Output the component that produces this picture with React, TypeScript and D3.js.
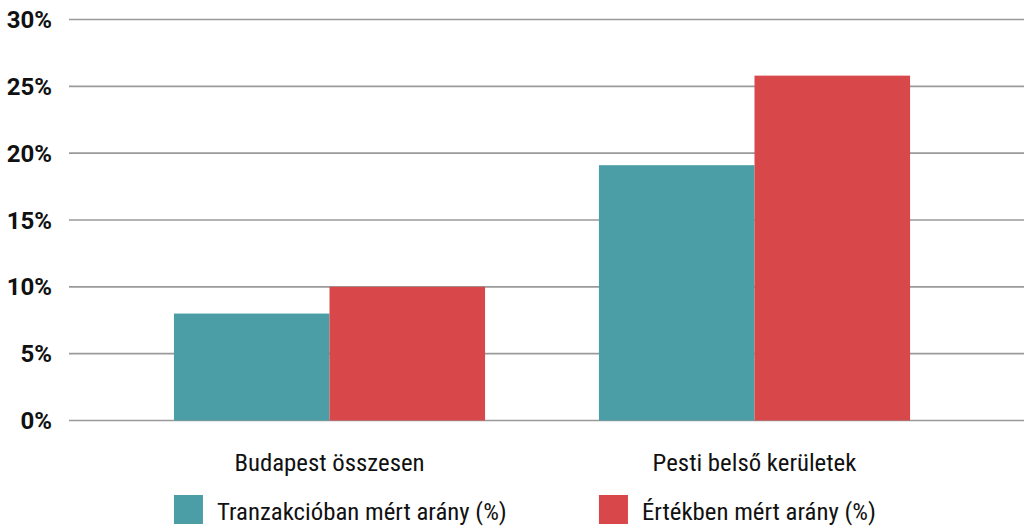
import React, { useEffect, useRef } from 'react';
import * as d3 from 'd3';

const categories = ['Budapest összesen', 'Pesti belső kerületek'];
const seriesNames = ['Tranzakcióban mért arány (%)', 'Értékben mért arány (%)'];
const seriesColors = ['#4b9ea6', '#d84749'];
const tranzakcio = [8.0, 19.1];
const ertek = [10.0, 25.8];
const yTicks = [0, 5, 10, 15, 20, 25, 30];

const W = 1024;
const H = 530;
const FONT = "'Roboto Condensed', 'Liberation Sans Narrow', Roboto, sans-serif";

export default function App() {
    const svgRef = useRef<SVGSVGElement>(null);

    useEffect(() => {
        if (!svgRef.current) return;
        const svg = d3.select(svgRef.current);
        svg.selectAll('*').remove();

        const y = d3.scaleLinear().domain([0, 30]).range([420.5, 19.5]);
        const x0 = d3.scaleBand<string>()
            .domain(categories)
            .range([117, 967])
            .paddingInner(0.268)
            .paddingOuter(0.134);
        const x1 = d3.scaleBand<string>()
            .domain(seriesNames)
            .range([0, x0.bandwidth()]);

        // grid + tick labels
        const grid = svg.append('g');
        grid.selectAll('line')
            .data(yTicks)
            .enter().append('line')
            .attr('x1', 69).attr('x2', W)
            .attr('y1', d => y(d)).attr('y2', d => y(d))
            .attr('stroke', '#9a9a9a')
            .attr('stroke-width', 1.6);
        grid.selectAll('text')
            .data(yTicks)
            .enter().append('text')
            .attr('x', 52)
            .attr('y', d => y(d) + 8.5)
            .attr('text-anchor', 'end')
            .attr('font-family', 'Roboto, sans-serif')
            .attr('font-weight', 700)
            .attr('font-size', 24)
            .attr('fill', '#111')
            .text(d => `${d}%`);

        const rows = categories.map((c, i) => ({ cat: c, vals: [tranzakcio[i], ertek[i]] }));
        const groups = svg.append('g').selectAll('g')
            .data(rows)
            .enter().append('g')
            .attr('transform', d => `translate(${x0(d.cat)},0)`);
        groups.selectAll('rect')
            .data(d => d.vals.map((v, j) => ({ name: seriesNames[j], v, j })))
            .enter().append('rect')
            .attr('x', d => x1(d.name)!)
            .attr('y', d => y(d.v))
            .attr('width', x1.bandwidth())
            .attr('height', d => y(0) - y(d.v))
            .attr('fill', d => seriesColors[d.j]);

        // category labels
        svg.append('g').selectAll('text')
            .data(categories)
            .enter().append('text')
            .attr('x', d => x0(d)! + x0.bandwidth() / 2)
            .attr('y', 471)
            .attr('text-anchor', 'middle')
            .attr('font-family', FONT)
            .attr('font-size', 24.8)
            .attr('fill', '#111')
            .text(d => d);

        // legend
        const leg = svg.append('g').selectAll('g')
            .data(seriesNames)
            .enter().append('g')
            .attr('transform', (_, i) => `translate(${x0(categories[i])},495)`);
        leg.append('rect')
            .attr('width', 29).attr('height', 29)
            .attr('fill', (_, i) => seriesColors[i]);
        leg.append('text')
            .attr('x', 43)
            .attr('y', 24.5)
            .attr('font-family', FONT)
            .attr('font-size', 24.8)
            .attr('fill', '#111')
            .text(d => d);
    }, []);

    return (
        <svg ref={svgRef} width={W} height={H}
            style={{ position: 'absolute', left: 0, top: 0, background: '#fff' }} />
    );
}
